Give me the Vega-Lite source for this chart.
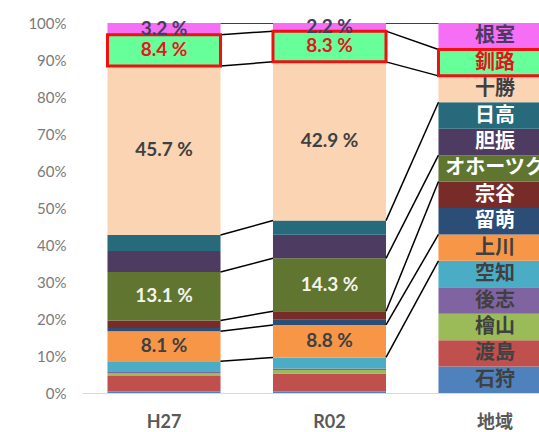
{
  "$schema": "https://vega.github.io/schema/vega-lite/v6.json",
  "width": 457,
  "height": 370,
  "autosize": {"type": "none"},
  "padding": {"left": 82, "top": 23, "right": 0, "bottom": 39},
  "background": "white",
  "config": {
    "view": {"stroke": null},
    "axisY": {"labelOverlap": false, "labelSeparation": 0, "labelBound": false, "grid": false, "ticks": false, "domain": false, "labelFont": "Lato", "labelFontSize": 15, "labelColor": "#7a7a7a", "labelPadding": 16, "title": null},
    "axisX": {"labelAngle": 0, "labelFont": "Lato, 'Noto Sans CJK JP'", "labelFontWeight": "bold", "labelFontSize": 18, "labelColor": "#595959", "ticks": false, "domainColor": "#d9d9d9", "labelPadding": 20, "title": null}
  },
  "datasets": {
    "shares": [
      {"cat": "H27", "region": "石狩", "rank": 1, "v": 0.4},
      {"cat": "H27", "region": "渡島", "rank": 2, "v": 4.2},
      {"cat": "H27", "region": "檜山", "rank": 3, "v": 0.8},
      {"cat": "H27", "region": "後志", "rank": 4, "v": 0.5},
      {"cat": "H27", "region": "空知", "rank": 5, "v": 2.7},
      {"cat": "H27", "region": "上川", "rank": 6, "v": 8.1, "label": "8.1 %"},
      {"cat": "H27", "region": "留萌", "rank": 7, "v": 0.9},
      {"cat": "H27", "region": "宗谷", "rank": 8, "v": 2.0},
      {"cat": "H27", "region": "オホーツク", "rank": 9, "v": 13.1, "label": "13.1 %"},
      {"cat": "H27", "region": "胆振", "rank": 10, "v": 5.7},
      {"cat": "H27", "region": "日高", "rank": 11, "v": 4.3},
      {"cat": "H27", "region": "十勝", "rank": 12, "v": 45.7, "label": "45.7 %"},
      {"cat": "H27", "region": "釧路", "rank": 13, "v": 8.4, "label": "8.4 %"},
      {"cat": "H27", "region": "根室", "rank": 14, "v": 3.2, "label": "3.2 %"},
      {"cat": "R02", "region": "石狩", "rank": 1, "v": 0.4},
      {"cat": "R02", "region": "渡島", "rank": 2, "v": 4.9},
      {"cat": "R02", "region": "檜山", "rank": 3, "v": 0.9},
      {"cat": "R02", "region": "後志", "rank": 4, "v": 0.4},
      {"cat": "R02", "region": "空知", "rank": 5, "v": 3.0},
      {"cat": "R02", "region": "上川", "rank": 6, "v": 8.8, "label": "8.8 %"},
      {"cat": "R02", "region": "留萌", "rank": 7, "v": 1.4},
      {"cat": "R02", "region": "宗谷", "rank": 8, "v": 2.3},
      {"cat": "R02", "region": "オホーツク", "rank": 9, "v": 14.3, "label": "14.3 %"},
      {"cat": "R02", "region": "胆振", "rank": 10, "v": 6.4},
      {"cat": "R02", "region": "日高", "rank": 11, "v": 3.8},
      {"cat": "R02", "region": "十勝", "rank": 12, "v": 42.9, "label": "42.9 %"},
      {"cat": "R02", "region": "釧路", "rank": 13, "v": 8.3, "label": "8.3 %"},
      {"cat": "R02", "region": "根室", "rank": 14, "v": 2.2, "label": "2.2 %"},
      {"cat": "地域", "region": "石狩", "rank": 1, "v": 1},
      {"cat": "地域", "region": "渡島", "rank": 2, "v": 1},
      {"cat": "地域", "region": "檜山", "rank": 3, "v": 1},
      {"cat": "地域", "region": "後志", "rank": 4, "v": 1},
      {"cat": "地域", "region": "空知", "rank": 5, "v": 1},
      {"cat": "地域", "region": "上川", "rank": 6, "v": 1},
      {"cat": "地域", "region": "留萌", "rank": 7, "v": 1},
      {"cat": "地域", "region": "宗谷", "rank": 8, "v": 1},
      {"cat": "地域", "region": "オホーツク", "rank": 9, "v": 1},
      {"cat": "地域", "region": "胆振", "rank": 10, "v": 1},
      {"cat": "地域", "region": "日高", "rank": 11, "v": 1},
      {"cat": "地域", "region": "十勝", "rank": 12, "v": 1},
      {"cat": "地域", "region": "釧路", "rank": 13, "v": 1},
      {"cat": "地域", "region": "根室", "rank": 14, "v": 1}
    ],
    "links": [
      {"from": "H27", "to": "R02", "ya": 1.0, "yb": 1.0},
      {"from": "H27", "to": "R02", "ya": 0.968, "yb": 0.978},
      {"from": "H27", "to": "R02", "ya": 0.884, "yb": 0.895},
      {"from": "H27", "to": "R02", "ya": 0.427, "yb": 0.466},
      {"from": "H27", "to": "R02", "ya": 0.327, "yb": 0.364},
      {"from": "H27", "to": "R02", "ya": 0.196, "yb": 0.221},
      {"from": "H27", "to": "R02", "ya": 0.167, "yb": 0.184},
      {"from": "H27", "to": "R02", "ya": 0.086, "yb": 0.096},
      {"from": "R02", "to": "地域", "ya": 1.0, "yb": 1.0},
      {"from": "R02", "to": "地域", "ya": 0.978, "yb": 0.92857},
      {"from": "R02", "to": "地域", "ya": 0.895, "yb": 0.85714},
      {"from": "R02", "to": "地域", "ya": 0.466, "yb": 0.78571},
      {"from": "R02", "to": "地域", "ya": 0.364, "yb": 0.64286},
      {"from": "R02", "to": "地域", "ya": 0.221, "yb": 0.57143},
      {"from": "R02", "to": "地域", "ya": 0.184, "yb": 0.42857},
      {"from": "R02", "to": "地域", "ya": 0.096, "yb": 0.35714}
    ]
  },
  "encoding": {
    "x": {
      "field": "cat", "type": "nominal", "sort": null,
      "scale": {"type": "band", "domain": ["H27", "R02", "地域"], "range": [0, 495], "paddingInner": 0.317, "paddingOuter": 0.154},
      "axis": {"title": null}
    },
    "y": {
      "field": "y0", "type": "quantitative",
      "scale": {"domain": [0, 1], "nice": false},
      "axis": {"title": null, "tickCount": 10, "format": ".0%", "labelOverlap": false}
    }
  },
  "layer": [
    {
      "data": {"name": "shares"},
      "transform": [
        {"stack": "v", "groupby": ["cat"], "sort": [{"field": "rank", "order": "ascending"}], "as": ["y0", "y1"], "offset": "normalize"}
      ],
      "mark": {"type": "bar", "clip": true},
      "encoding": {
        "y2": {"field": "y1"},
        "color": {
          "field": "region", "type": "nominal", "legend": null,
          "scale": {
            "domain": ["石狩", "渡島", "檜山", "後志", "空知", "上川", "留萌", "宗谷", "オホーツク", "胆振", "日高", "十勝", "釧路", "根室"],
            "range": ["#4F81BD", "#C0504D", "#9BBB59", "#8064A2", "#4BACC6", "#F79646", "#2C4D75", "#772C2A", "#5F7530", "#4D3B62", "#276A7C", "#FBD4B4", "#66FF99", "#F56EF5"]
          }
        }
      }
    },
    {
      "data": {"name": "links"},
      "mark": {"type": "rule", "color": "#000000", "strokeWidth": 1.5, "clip": true},
      "encoding": {
        "x": {"field": "from", "type": "nominal", "bandPosition": 1, "sort": null},
        "x2": {"field": "to", "bandPosition": 0},
        "y": {"field": "ya", "type": "quantitative"},
        "y2": {"field": "yb"}
      }
    },
    {
      "data": {"name": "shares"},
      "transform": [
        {"stack": "v", "groupby": ["cat"], "sort": [{"field": "rank", "order": "ascending"}], "as": ["y0", "y1"], "offset": "normalize"},
        {"filter": {"field": "region", "equal": "釧路"}}
      ],
      "mark": {"type": "bar", "filled": false, "stroke": "#F01010", "strokeWidth": 3, "clip": true},
      "encoding": {
        "y2": {"field": "y1"}
      }
    },
    {
      "data": {"name": "shares"},
      "transform": [
        {"stack": "v", "groupby": ["cat"], "sort": [{"field": "rank", "order": "ascending"}], "as": ["y0", "y1"], "offset": "normalize"},
        {"filter": "isString(datum.label)"},
        {"fold": ["y0", "y1"], "as": ["k", "yv"]},
        {"aggregate": [{"op": "mean", "field": "yv", "as": "ym"}], "groupby": ["cat", "region", "label"]}
      ],
      "mark": {"type": "text", "font": "Lato", "fontWeight": "bold", "fontSize": 19, "baseline": "middle", "align": "center"},
      "encoding": {
        "y": {"field": "ym", "type": "quantitative"},
        "text": {"field": "label"},
        "color": {
          "condition": [
            {"test": "datum.region === '釧路'", "value": "#E8141B"},
            {"test": "indexof(['日高','胆振','オホーツク','宗谷','留萌'], datum.region) >= 0", "value": "#F4F4EA"},
            {"test": "datum.region === '根室'", "value": "#4B3A5E"}
          ],
          "value": "#404040"
        }
      }
    },
    {
      "data": {"name": "shares"},
      "transform": [
        {"stack": "v", "groupby": ["cat"], "sort": [{"field": "rank", "order": "ascending"}], "as": ["y0", "y1"], "offset": "normalize"},
        {"filter": {"field": "cat", "equal": "地域"}},
        {"fold": ["y0", "y1"], "as": ["k", "yv"]},
        {"aggregate": [{"op": "mean", "field": "yv", "as": "ym"}], "groupby": ["cat", "region"]}
      ],
      "mark": {"type": "text", "font": "Noto Sans CJK JP", "fontWeight": "bold", "fontSize": 20, "baseline": "middle", "align": "center", "clip": true},
      "encoding": {
        "y": {"field": "ym", "type": "quantitative"},
        "text": {"field": "region"},
        "color": {
          "condition": [
            {"test": "datum.region === '釧路'", "value": "#E8141B"},
            {"test": "indexof(['日高','胆振','オホーツク','宗谷','留萌'], datum.region) >= 0", "value": "#FFFFFF"},
            {"test": "datum.region === '根室'", "value": "#4B3A5E"}
          ],
          "value": "#404040"
        }
      }
    }
  ]
}
